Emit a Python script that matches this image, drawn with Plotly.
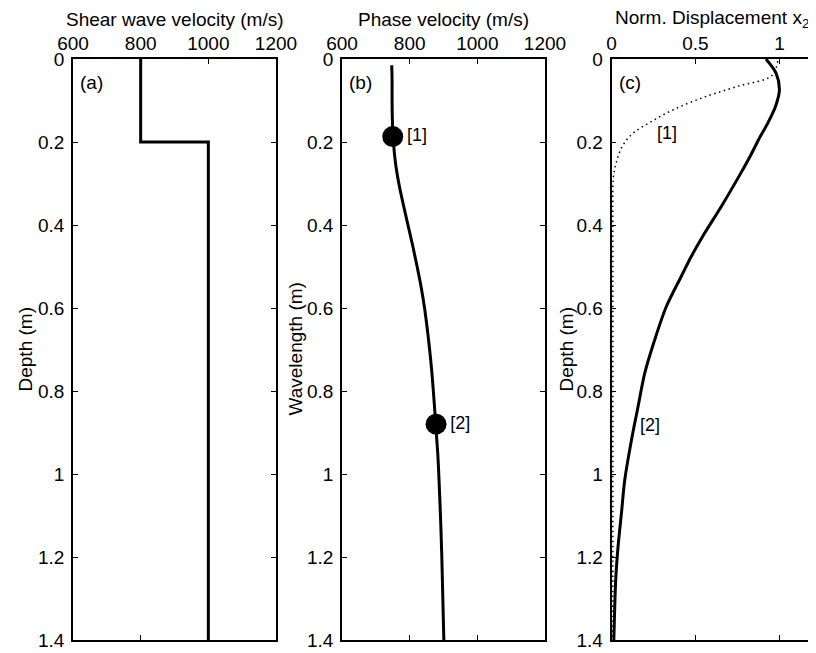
import plotly.graph_objects as go

# ---------------- data ----------------
# (a) shear-wave velocity profile
vs_depth = [0.0, 0.2, 0.2, 1.4]
vs_values = [800, 800, 1000, 1000]

# (b) dispersion curve: wavelength vs phase velocity
wl = [0.015, 0.05, 0.1, 0.15, 0.2, 0.25, 0.3, 0.35, 0.4, 0.45, 0.5, 0.55, 0.6,
      0.65, 0.7, 0.75, 0.8, 0.88, 0.95, 1.0, 1.1, 1.2, 1.3, 1.4]
vph = [747, 748, 748, 749, 752, 758, 768, 781, 795, 809, 822, 834, 844,
       852, 859, 865, 870, 877, 883, 886, 891, 895, 898, 901]
sel_wl = [0.187, 0.88]
sel_v = [750, 878]
sel_labels = ["[1]", "[2]"]

# (c) normalized displacement x2 for the two selected wavelengths
d2_depth = [0.0, 0.034, 0.075, 0.115, 0.155, 0.195, 0.235, 0.275, 0.356, 0.42,
            0.476, 0.524, 0.597, 0.677, 0.757, 0.838, 0.918, 1.014, 1.095,
            1.175, 1.255, 1.4]
d2_x = [0.92, 0.98, 1.0, 0.976, 0.93, 0.875, 0.825, 0.77, 0.653, 0.554,
        0.475, 0.415, 0.326, 0.257, 0.198, 0.158, 0.119, 0.079, 0.059,
        0.039, 0.025, 0.014]
d1_depth = [0.005, 0.04, 0.065, 0.09, 0.12, 0.15, 0.18, 0.21, 0.25, 0.29, 0.35,
            0.45, 0.6, 0.8, 1.0, 1.2, 1.4]
d1_x = [0.99, 0.955, 0.76, 0.565, 0.38, 0.24, 0.125, 0.065, 0.028, 0.01, 0.008,
        0.008, 0.008, 0.008, 0.008, 0.008, 0.008]
c_labels = ["[1]", "[2]"]
c_label_x = [0.33, 0.23]
c_label_depth = [0.183, 0.886]

depth_ticks = [0, 0.2, 0.4, 0.6, 0.8, 1.0, 1.2, 1.4]
depth_ticktext = ["0", "0.2", "0.4", "0.6", "0.8", "1", "1.2", "1.4"]
vel_ticks = [600, 800, 1000, 1200]
disp_ticks = [0, 0.5, 1]
disp_ticktext = ["0", "0.5", "1"]

FONT = "Liberation Sans, Arial, Helvetica, sans-serif"
FS = 19

fig = go.Figure()
fig.add_trace(go.Scatter(x=vs_values, y=vs_depth, mode="lines",
                         line=dict(color="black", width=3), xaxis="x", yaxis="y"))
fig.add_trace(go.Scatter(x=vph, y=wl, mode="lines", line=dict(color="black", width=3,
                         shape="spline"), xaxis="x2", yaxis="y2"))
fig.add_trace(go.Scatter(x=sel_v, y=sel_wl, mode="markers+text", text=sel_labels,
                         textposition="middle right",
                         textfont=dict(family=FONT, size=18, color="black"),
                         marker=dict(color="black", size=21), xaxis="x2", yaxis="y2"))
fig.add_trace(go.Scatter(x=d2_x, y=d2_depth, mode="lines",
                         line=dict(color="black", width=3, shape="spline", smoothing=0.8),
                         xaxis="x3", yaxis="y3"))
fig.add_trace(go.Scatter(x=d1_x, y=d1_depth, mode="lines",
                         line=dict(color="black", width=1.5, dash="1.5px,3.5px", shape="spline"),
                         xaxis="x3", yaxis="y3"))
fig.add_trace(go.Scatter(x=c_label_x, y=c_label_depth, mode="text", text=c_labels,
                         textfont=dict(family=FONT, size=18, color="black"),
                         xaxis="x3", yaxis="y3"))

# the page places the figure 8 px from the window's top-left corner
OFF = 8
W, H = 816 - OFF, 653 - OFF


def px_x(px):
    return (px - OFF) / W


def px_y(py):
    return (H - (py - OFF)) / H


doms_x = [[px_x(73), px_x(276)], [px_x(342), px_x(545)], [px_x(611.5), px_x(813)]]
dom_y = [px_y(640), px_y(59)]

common = dict(showline=True, linecolor="black", linewidth=1.5, mirror="ticks",
              ticks="inside", ticklen=5, tickwidth=1, tickcolor="black",
              showgrid=False, zeroline=False, automargin=False,
              tickfont=dict(family=FONT, size=FS, color="black"))

layout = dict(width=W, height=H,
              margin=dict(l=0, r=0, t=0, b=0, pad=0, autoexpand=False),
              paper_bgcolor="white", plot_bgcolor="white", showlegend=False)
for i in range(3):
    sx = "" if i == 0 else str(i + 1)
    xa = dict(common, domain=doms_x[i], anchor="y" + sx, side="top")
    if i < 2:
        xa.update(range=[600, 1200], tickvals=vel_ticks)
    else:
        xa.update(range=[0, 1.2], tickvals=disp_ticks, ticktext=disp_ticktext)
    ya = dict(common, domain=dom_y, anchor="x" + sx, range=[1.4, 0],
              tickvals=depth_ticks, ticktext=depth_ticktext, ticklabelstandoff=3)
    layout["xaxis" + sx] = xa
    layout["yaxis" + sx] = ya

fig.update_layout(**layout)

titles_top = ["Shear wave velocity (m/s)", "Phase velocity (m/s)",
              "Norm. Displacement x<sub>2</sub>"]
titles_left = ["Depth (m)", "Wavelength (m)", "Depth (m)"]
left_x = [25, 295, 566]
panel_tags = ["(a)", "(b)", "(c)"]
for i in range(3):
    cx = (doms_x[i][0] + doms_x[i][1]) / 2
    fig.add_annotation(text=titles_top[i], x=cx, y=px_y(19.5), xref="paper", yref="paper",
                       showarrow=False, xanchor="center", yanchor="middle",
                       font=dict(family=FONT, size=FS, color="black"))
    fig.add_annotation(text=titles_left[i], x=px_x(left_x[i]), y=px_y(349.5),
                       xref="paper", yref="paper", showarrow=False, textangle=-90,
                       xanchor="center", yanchor="middle",
                       font=dict(family=FONT, size=FS, color="black"))
    fig.add_annotation(text=panel_tags[i], x=doms_x[i][0] + 5 / W, y=px_y(82),
                       xref="paper", yref="paper", showarrow=False,
                       xanchor="left", yanchor="middle",
                       font=dict(family=FONT, size=FS, color="black"))

fig.write_html("out.html")
